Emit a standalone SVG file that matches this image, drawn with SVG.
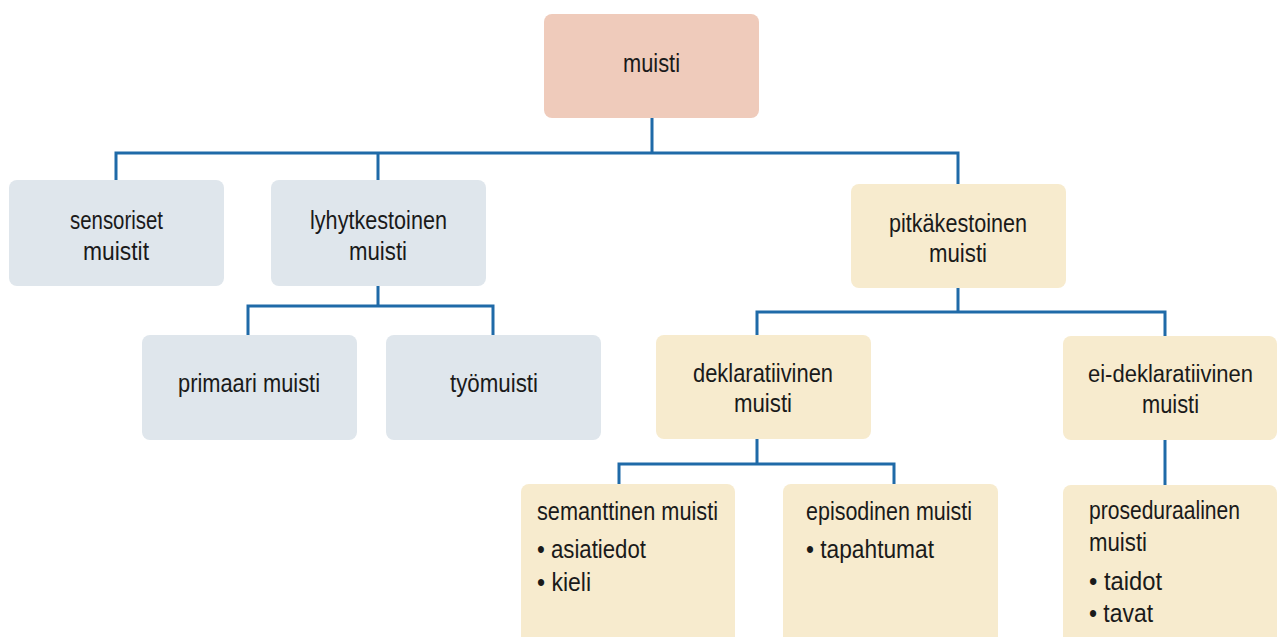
<svg xmlns="http://www.w3.org/2000/svg" width="1277" height="637" viewBox="0 0 1277 637">
<style>
.box{stroke:none}
.root{fill:#efcbbb}
.grey{fill:#dfe6ec}
.cream{fill:#f7ebce}
text{font-family:"Liberation Sans",Arial,sans-serif;font-size:26.5px;fill:#1a1a1a}
text.sm{font-size:23px}
.conn{fill:none;stroke:#1f6aa8;stroke-width:3}
</style>
<rect width="1277" height="637" fill="#ffffff"/>
<g id="connectors" class="conn">
<path d="M652 118 V153 M116 180 V153 H958 V184 M378 153 V180"/>
<path d="M378 286 V306 M248 335 V306 H493 V335"/>
<path d="M958 288 V312 M757 335 V312 H1165 V336"/>
<path d="M1165 440 V485"/>
<path d="M757 439 V464 M619 484 V464 H894 V484"/>
</g>
<g id="muisti">
<rect class="box root" x="544" y="14" width="215" height="104" rx="8"/>
<text x="623" y="72" textLength="57" lengthAdjust="spacingAndGlyphs">muisti</text>
</g>
<g id="sensoriset">
<rect class="box grey" x="9" y="180" width="215" height="106" rx="8"/>
<text x="70" y="229" textLength="93" lengthAdjust="spacingAndGlyphs">sensoriset</text>
<text x="83" y="260" textLength="66" lengthAdjust="spacingAndGlyphs">muistit</text>
</g>
<g id="lyhytkestoinen">
<rect class="box grey" x="271" y="180" width="215" height="106" rx="8"/>
<text x="310" y="229" textLength="137" lengthAdjust="spacingAndGlyphs">lyhytkestoinen</text>
<text x="349" y="260" textLength="58" lengthAdjust="spacingAndGlyphs">muisti</text>
</g>
<g id="primaari">
<rect class="box grey" x="142" y="335" width="215" height="105" rx="8"/>
<text x="178" y="392" textLength="142" lengthAdjust="spacingAndGlyphs">primaari muisti</text>
</g>
<g id="tyomuisti">
<rect class="box grey" x="386" y="335" width="215" height="105" rx="8"/>
<text x="450" y="392" textLength="88" lengthAdjust="spacingAndGlyphs">työmuisti</text>
</g>
<g id="pitkakestoinen">
<rect class="box cream" x="851" y="184" width="215" height="104" rx="8"/>
<text x="889" y="232" textLength="138" lengthAdjust="spacingAndGlyphs">pitkäkestoinen</text>
<text x="929" y="262" textLength="58" lengthAdjust="spacingAndGlyphs">muisti</text>
</g>
<g id="deklaratiivinen">
<rect class="box cream" x="656" y="335" width="215" height="104" rx="8"/>
<text x="693" y="382" textLength="140" lengthAdjust="spacingAndGlyphs">deklaratiivinen</text>
<text x="734" y="412" textLength="58" lengthAdjust="spacingAndGlyphs">muisti</text>
</g>
<g id="ei-deklaratiivinen">
<rect class="box cream" x="1063" y="336" width="214" height="104" rx="8"/>
<text class="sm" x="1088" y="382" textLength="165" lengthAdjust="spacingAndGlyphs">ei-deklaratiivinen</text>
<text x="1142" y="413" textLength="57" lengthAdjust="spacingAndGlyphs">muisti</text>
</g>
<g id="semanttinen">
<rect class="box cream" x="521" y="484" width="214" height="170" rx="8"/>
<text x="537" y="520" textLength="181" lengthAdjust="spacingAndGlyphs">semanttinen muisti</text>
<text x="537" y="558" textLength="109" lengthAdjust="spacingAndGlyphs">• asiatiedot</text>
<text x="537" y="591" textLength="54" lengthAdjust="spacingAndGlyphs">• kieli</text>
</g>
<g id="episodinen">
<rect class="box cream" x="783" y="484" width="215" height="170" rx="8"/>
<text x="806" y="520" textLength="166" lengthAdjust="spacingAndGlyphs">episodinen muisti</text>
<text x="806" y="558" textLength="128" lengthAdjust="spacingAndGlyphs">• tapahtumat</text>
</g>
<g id="proseduraalinen">
<rect class="box cream" x="1063" y="485" width="214" height="170" rx="8"/>
<text x="1089" y="519" textLength="151" lengthAdjust="spacingAndGlyphs">proseduraalinen</text>
<text x="1089" y="551" textLength="58" lengthAdjust="spacingAndGlyphs">muisti</text>
<text x="1089" y="590" textLength="73" lengthAdjust="spacingAndGlyphs">• taidot</text>
<text x="1089" y="622" textLength="64" lengthAdjust="spacingAndGlyphs">• tavat</text>
</g>
</svg>
